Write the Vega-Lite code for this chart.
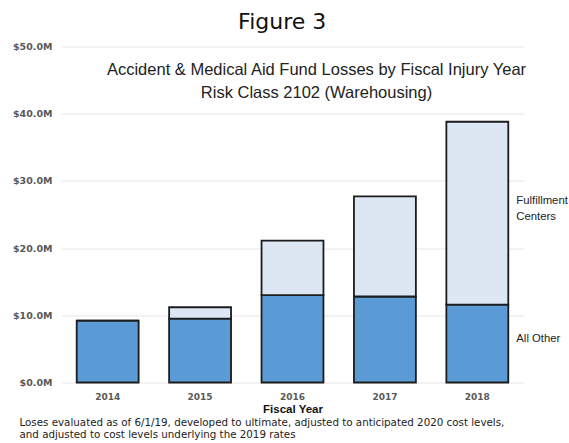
{
  "$schema": "https://vega.github.io/schema/vega-lite/v6.json",
  "padding": {"left": 12, "top": 10.5, "right": 0, "bottom": 0},
  "background": "white",
  "config": {"view": {"stroke": null}, "font": "Liberation Sans", "concat": {"spacing": 0}},
  "title": {
    "text": ["Loses evaluated as of 6/1/19, developed to ultimate, adjusted to anticipated 2020 cost levels,", " and adjusted to cost levels underlying the 2019 rates"],
    "orient": "bottom", "anchor": "start", "fontSize": 10.3, "fontWeight": "normal", "color": "#222222",
    "lineHeight": 12, "offset": 2.5, "dx": 7, "font": "DejaVu Sans"
  },
  "vconcat": [
    {
      "title": {"text": "Figure 3", "anchor": "middle", "fontSize": 22, "fontWeight": "normal", "font": "DejaVu Sans", "color": "#111111", "offset": 8, "dx": -8},
      "vconcat": [
        {
          "title": {
            "text": ["Accident & Medical Aid Fund Losses by Fiscal Injury Year", "Risk Class 2102 (Warehousing)"],
            "anchor": "middle", "fontSize": 16.5, "fontWeight": "normal", "color": "#222222", "lineHeight": 23,
            "offset": -60, "dx": 24, "font": "Liberation Sans"
          },
          "width": 463,
          "height": 336,
          "data": {
            "values": [
              {"year": "2014", "category": "All Other", "value": 9.2},
              {"year": "2014", "category": "Fulfillment Centers", "value": 0},
              {"year": "2015", "category": "All Other", "value": 9.5},
              {"year": "2015", "category": "Fulfillment Centers", "value": 1.7},
              {"year": "2016", "category": "All Other", "value": 13.0},
              {"year": "2016", "category": "Fulfillment Centers", "value": 8.1},
              {"year": "2017", "category": "All Other", "value": 12.8},
              {"year": "2017", "category": "Fulfillment Centers", "value": 14.9},
              {"year": "2018", "category": "All Other", "value": 11.6},
              {"year": "2018", "category": "Fulfillment Centers", "value": 27.2}
            ]
          },
          "transform": [
            {"stack": "value", "groupby": ["year"], "sort": [{"field": "category", "order": "ascending"}], "as": ["v0", "v1"]},
            {"calculate": "(datum.v0 + datum.v1) / 2", "as": "mid"}
          ],
          "encoding": {
            "x": {
              "field": "year", "type": "ordinal",
              "scale": {"paddingInner": 0.33, "paddingOuter": 0.17},
              "axis": {
                "title": "Fiscal Year", "titleFontWeight": "bold", "titleFontSize": 11.5, "titleColor": "#111111", "titlePadding": 2,
                "titleFont": "Liberation Sans",
                "labelAngle": 0, "labelFontWeight": "bold", "labelFontSize": 9, "labelFont": "DejaVu Sans", "labelColor": "#595959", "labelPadding": 10,
                "domain": false, "ticks": false
              }
            }
          },
          "layer": [
            {
              "mark": {"type": "bar", "stroke": "#1c1c1c", "strokeWidth": 1.8},
              "encoding": {
                "y": {
                  "field": "v0", "type": "quantitative",
                  "scale": {"domain": [0, 50], "nice": false},
                  "axis": {
                    "title": null, "values": [0, 10, 20, 30, 40, 50],
                    "labelExpr": "'$' + format(datum.value, '.1f') + 'M'",
                    "labelFontWeight": "bold", "labelFontSize": 9.5, "labelFont": "DejaVu Sans", "labelColor": "#595959", "labelPadding": 9,
                    "domain": false, "ticks": false, "gridColor": "#e6e6e6", "gridWidth": 1
                  }
                },
                "y2": {"field": "v1"},
                "color": {
                  "field": "category", "type": "nominal",
                  "scale": {"domain": ["All Other", "Fulfillment Centers"], "range": ["#5b9bd5", "#dce7f3"]},
                  "legend": null
                }
              }
            },
            {
              "transform": [{"filter": "datum.year == '2018' && datum.category == 'Fulfillment Centers'"}],
              "mark": {"type": "text", "align": "left", "baseline": "middle", "dx": 39, "dy": -12.5, "fontSize": 11.3, "color": "#222222", "lineBreak": " ", "lineHeight": 16.6},
              "encoding": {
                "y": {"field": "mid", "type": "quantitative"},
                "text": {"field": "category"}
              }
            },
            {
              "transform": [{"filter": "datum.year == '2018' && datum.category == 'All Other'"}],
              "mark": {"type": "text", "align": "left", "baseline": "middle", "dx": 39, "dy": -4.5, "fontSize": 11.3, "color": "#222222"},
              "encoding": {
                "y": {"field": "mid", "type": "quantitative"},
                "text": {"field": "category"}
              }
            }
          ]
        }
      ]
    }
  ]
}
